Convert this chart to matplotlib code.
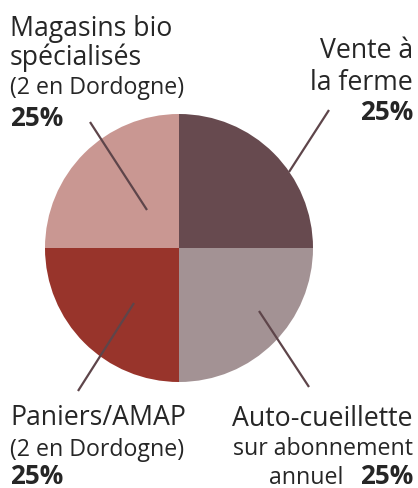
import matplotlib
matplotlib.use('Agg')
import matplotlib.pyplot as plt

# data
labels = ["Vente à la ferme", "Auto-cueillette sur abonnement annuel",
          "Paniers/AMAP", "Magasins bio spécialisés"]
shares = [25, 25, 25, 25]
pct_labels = ["{}%".format(v) for v in shares]
colors = ["#674a4f", "#a39294", "#98342b", "#c99792"]

W, H = 418, 489
FONT = "Open Sans"
TXT = "#262626"
LINE = "#5e454a"

fig = plt.figure(figsize=(W / 100, H / 100), dpi=100)
ax = fig.add_axes([0, 0, 1, 1])
ax.set_xlim(0, W)
ax.set_ylim(0, H)
ax.set_aspect('equal')
ax.axis('off')


def py(y):
    # pixel row (from top) -> data y
    return H - y


ax.pie(shares, colors=colors, startangle=90, counterclock=False,
       center=(179, py(249)), radius=134,
       wedgeprops=dict(linewidth=0))
ax.set_xlim(0, W)
ax.set_ylim(0, H)

# leader lines
leaders = [((329, 111), (289, 173)),
           ((309, 388), (259, 312)),
           ((78, 392), (134, 304)),
           ((90, 123), (147, 211))]
for (x0, y0), (x1, y1) in leaders:
    ax.plot([x0, x1], [py(y0), py(y1)], color=LINE, lw=1.6,
            solid_capstyle='butt')


def txt(x, y, s, size, ha='left', bold=False):
    ax.text(x, py(y), s, fontsize=size, ha=ha, va='baseline',
            family=FONT, color=TXT, fontweight='bold' if bold else 'normal')


big, small, pct = 19.2, 16.7, 18.8

# top left
txt(10, 36, "Magasins bio", big)
txt(10, 65, "spécialisés", big)
txt(10, 94, "(2 en Dordogne)", small)
txt(10, 126, pct_labels[3], pct, bold=True)

# top right
txt(413, 58, "Vente à", big, ha='right')
txt(413, 90, "la ferme", big, ha='right')
txt(413, 120, pct_labels[0], pct, ha='right', bold=True)

# bottom left
txt(10, 425, "Paniers/AMAP", big)
txt(10, 456, "(2 en Dordogne)", small)
txt(10, 484, pct_labels[2], pct, bold=True)

# bottom right
txt(413, 426, "Auto-cueillette", big, ha='right')
txt(413, 455, "sur abonnement", small, ha='right')
txt(413, 484, pct_labels[1], pct, ha='right', bold=True)
txt(343, 484, "annuel", small, ha='right')

fig.savefig("out.png", dpi=100)
